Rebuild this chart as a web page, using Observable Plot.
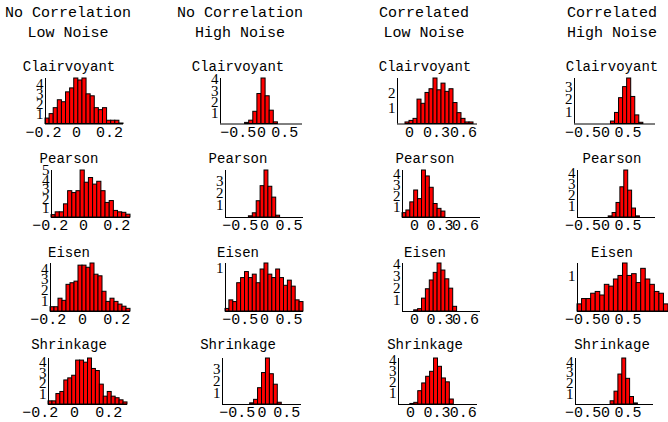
<!DOCTYPE html>
<html><head><meta charset="utf-8">
<script src="https://cdn.jsdelivr.net/npm/d3@7"></script>
<script src="https://cdn.jsdelivr.net/npm/@observablehq/plot@0.6"></script>
<style>
body{margin:0;background:#fff;}
#chart{position:relative;width:668px;height:422px;overflow:hidden;background:#fff;}
</style></head><body><div id="chart"></div>
<script>
// ---- data ----
const columnHeaders = [["No Correlation","Low Noise"],["No Correlation","High Noise"],["Correlated","Low Noise"],["Correlated","High Noise"]];
const methods = ["Clairvoyant","Pearson","Eisen","Shrinkage"];
const xTickValues = [[-0.2,0,0.2],[-0.5,0,0.5],[0,0.3,0.6],[-0.5,0,0.5]];

// histogram x extent (first bin start, last bin end) per column, per method
const xRangesNoCorLow  = [[-0.188,0.285],[-0.193,0.283],[-0.187,0.281],[-0.152,0.31]];
const xRangesNoCorHigh = [[-0.88,0.88],[-0.8,0.8],[-0.8,0.8],[-0.8,0.8]];
const xRangesCorLow    = [[-0.133,0.756],[-0.141,0.776],[-0.141,0.776],[-0.136,0.761]];
const xRangesCorHigh   = [[-0.69,1.11],[-0.62,1.11],[-0.62,1.4],[-0.67,1.07]];

// density heights of the bins
const noCorLowClairvoyant = [0.55,1.0,1.6,2.4,2.2,3.2,3.6,4.6,4.4,4.6,3.0,2.8,1.6,1.4,1.6,0.33,0.33,0.33,0.05];
const noCorLowPearson     = [0.25,0.55,0.55,1.4,2.8,2.6,2.8,5.0,3.7,4.2,3.5,3.8,2.8,1.55,1.75,0.7,0.55,0.5,0.3];
const noCorLowEisen       = [0.4,0.4,1.2,1.0,2.5,2.65,2.8,4.3,4.3,4.1,4.5,3.45,3.3,1.85,0.9,1.2,0.9,0.65,0.45,0.25];
const noCorLowShrinkage   = [0.3,0.3,1.0,1.2,2.3,2.5,2.75,4.2,4.2,4.0,4.4,3.4,3.2,1.9,0.75,1.2,0.75,0.6,0.4,0.2];

const noCorHighClairvoyant = [0,0,0,0,0,0,0.1,0.3,1.1,2.7,4.1,2.5,1.2,0.15,0,0,0,0,0,0];
const noCorHighPearson     = [0,0,0,0,0,0,0.1,0.35,1.35,2.6,3.9,2.55,1.65,0.15,0,0,0,0,0,0];
const noCorHighEisen       = [0.06,0.26,0.22,0.66,0.78,0.92,0.78,0.86,0.66,0.98,1.12,0.86,0.78,0.98,0.78,0.6,0.72,0.58,0.26,0.22];
const noCorHighShrinkage   = [0,0,0,0,0,0,0,0.1,0.4,1.4,2.7,3.95,2.6,1.7,0.15,0,0,0,0,0];

const corLowClairvoyant = [0,0,0.1,0.2,0.33,1.57,1.3,2.0,2.24,2.93,2.17,2.6,2.07,2.24,1.35,0.7,0.33,0.1,0.1,0];
const corLowPearson     = [0.4,0.65,1.4,2.5,1.7,4.35,3.8,2.75,1.25,0.8,0.55,0,0,0,0,0,0,0,0,0];
const corLowEisen       = [0,0,0,0.1,0.2,1.1,1.9,2.65,3.3,4.1,3.5,2.75,1.95,0.4,0,0,0,0,0,0];
const corLowShrinkage   = [0,0,0,0.05,0.15,1.2,1.9,2.5,2.95,4.15,3.4,2.35,2.0,0.45,0,0,0,0,0,0];

const corHighClairvoyant = [0,0,0,0,0,0,0,0,0,0.2,0.9,2.1,3.0,3.7,2.2,0.7,0.1,0,0,0];
const corHighPearson     = [0,0,0,0,0,0,0,0,0.1,0.4,1.3,2.7,4.2,2.4,0.8,0.1,0,0,0,0];
const corHighEisen       = [0.2,0.35,0.35,0.5,0.55,0.45,0.75,0.7,0.9,1.0,1.35,1.0,1.05,0.8,1.2,0.9,0.75,0.55,0.5,0.2];
const corHighShrinkage   = [0,0,0,0,0,0,0,0,0,0.3,1.2,2.8,4.3,2.4,0.7,0.1,0,0,0,0];

const histograms = [
  [noCorLowClairvoyant, noCorLowPearson, noCorLowEisen, noCorLowShrinkage],
  [noCorHighClairvoyant, noCorHighPearson, noCorHighEisen, noCorHighShrinkage],
  [corLowClairvoyant, corLowPearson, corLowEisen, corLowShrinkage],
  [corHighClairvoyant, corHighPearson, corHighEisen, corHighShrinkage]
];
const xRanges = [xRangesNoCorLow, xRangesNoCorHigh, xRangesCorLow, xRangesCorHigh];

// ---- layout (pixels) ----
const headerCenters = [68, 240, 424, 612];
const titleCenters = [69, 238, 425, 612];
const headerBaselines = [17, 37];
const titleBaselines = [71, 163, 257, 349];
const rowFrames = [[123.5, 78], [216.5, 169.5], [311, 263], [404, 358]]; // [baseline, top]
const colFrames = [
  [[45,123],[51,130],[50,130],[48,127]],
  [[220,302],[225,303],[225,303],[222,301]],
  [[397,477],[402,480],[402,480],[398,477]],
  [[574,655],[577,655],[577,668],[575,653]]
];
const ML = 30, MR = 14, MT = 4, MB = 22;
const monoFont = "'Liberation Mono', monospace";
const serifFont = "'Liberation Serif', serif";
const fmtX = d => (d < 0 ? "\u2212" : "") + String(Math.abs(d));
const fmtY = d => String(d);

const chart = document.getElementById("chart");

for (let c = 0; c < 4; c++) {
  for (let r = 0; r < 4; r++) {
    const heights = histograms[c][r];
    const [a, b] = xRanges[c][r];
    const n = heights.length, w = (b - a) / n;
    const bins = heights.map((h, i) => ({x1: a + i * w, x2: a + (i + 1) * w, h}));
    const ymax = d3.max(heights);
    const [left, right] = colFrames[c][r];
    const [base, top] = rowFrames[r];
    const svg = Plot.plot({
      width: right - left + ML + MR,
      height: base - top + MT + MB,
      marginLeft: ML, marginRight: MR, marginTop: MT, marginBottom: MB,
      style: {background: "none", overflow: "visible"},
      x: {domain: [a, b], axis: null},
      y: {domain: [0, ymax], axis: null},
      marks: [
        Plot.rectY(bins, {x1: "x1", x2: "x2", y: "h", fill: "#ff0000", stroke: "#000", strokeWidth: 1}),
        Plot.ruleY([0], {stroke: "#000", strokeWidth: 1}),
        Plot.ruleX([a], {y1: 0, y2: ymax, stroke: "#000", strokeWidth: 1}),
        Plot.axisX({ticks: xTickValues[c], tickFormat: fmtX, tickSize: 0, tickPadding: 2, label: null,
          fontFamily: monoFont, fontSize: 15, fill: "#000"}),
        Plot.axisY({ticks: d3.range(1, Math.floor(ymax) + 1), tickFormat: fmtY, tickSize: 0, tickPadding: 2, label: null,
          fontFamily: serifFont, fontSize: 15, fill: "#000"})
      ]
    });
    svg.style.position = "absolute";
    svg.style.left = (left - ML) + "px";
    svg.style.top = (top - MT) + "px";
    chart.appendChild(svg);
  }
}

// titles overlay
const overlay = d3.select(chart).append("svg")
  .attr("width", 668).attr("height", 422)
  .style("position", "absolute").style("left", 0).style("top", 0)
  .style("pointer-events", "none")
  .attr("font-family", monoFont).attr("text-anchor", "middle").attr("fill", "#000");
columnHeaders.forEach((lines, c) => {
  lines.forEach((t, k) => overlay.append("text").attr("font-size", 15)
    .attr("x", headerCenters[c]).attr("y", headerBaselines[k]).text(t));
  methods.forEach((m, r) => overlay.append("text").attr("font-size", 14)
    .attr("x", titleCenters[c]).attr("y", titleBaselines[r]).text(m));
});
</script></body></html>
